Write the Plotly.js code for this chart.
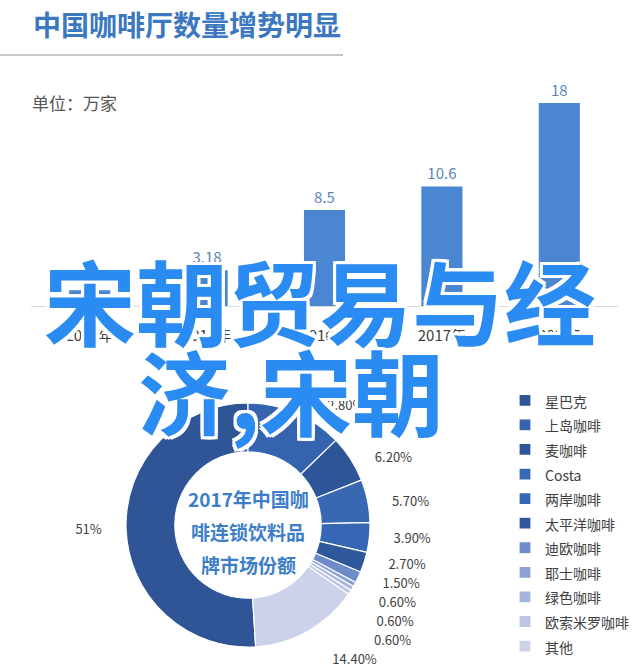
<!DOCTYPE html>
<html>
<head>
<meta charset="utf-8">
<script src="https://cdn.plot.ly/plotly-3.0.1.min.js"></script>
<style>
html,body{margin:0;padding:0;background:#fff;}
#chart{width:640px;height:667px;}
</style>
</head>
<body>
<div id="chart"></div>
<script>
// ---- Bar chart data ----
var years = ['2007年', '2012年', '2016年', '2017年', '2020E'];
var shopCounts = [1.39, 3.18, 8.5, 10.6, 18];

// ---- Donut chart data ----
var brands = ['星巴克', '上岛咖啡', '麦咖啡', 'Costa', '两岸咖啡', '太平洋咖啡', '迪欧咖啡', '耶士咖啡', '绿色咖啡', '欧索米罗咖啡', '其他'];
var shares = [51, 12.8, 6.2, 5.7, 3.9, 2.7, 1.5, 0.6, 0.6, 0.6, 14.4];
var brandColors = ['#2f5597', '#3563ad', '#2e5598', '#3868b2', '#3667b6', '#2e579c', '#6f8cca', '#8ca1d1', '#a5b5dd', '#bcc6e4', '#cbd2e9'];

var pad = '\u2002\u2002\u2002';
var shareText = shares.map(function (v) {
  var s = Number.isInteger(v) ? v + '%' : v.toFixed(2) + '%';
  return '<span style="color:#404040;fill-opacity:1">' + pad + s + pad + '</span>';
});
var legendLabels = brands.map(function (b) {
  return '<span style="font-size:14px">' + b + '</span>';
});

var CJK = '"Noto Sans CJK SC", "Noto Sans", sans-serif';

var barTrace = {
  type: 'bar',
  x: years,
  y: shopCounts,
  xaxis: 'x',
  yaxis: 'y',
  marker: {color: '#4a86d2'},
  text: shopCounts.map(String),
  textposition: 'outside',
  cliponaxis: false,
  textfont: {family: CJK, size: 15, color: '#5a85b8'},
  hoverinfo: 'x+y',
  showlegend: false
};

var pieTrace = {
  type: 'pie',
  labels: legendLabels,
  values: shares,
  text: shareText,
  textinfo: 'text',
  textposition: 'outside',
  sort: false,
  direction: 'clockwise',
  rotation: 176.4,
  hole: 0.6,
  marker: {colors: brandColors, line: {color: '#ffffff', width: 1.2}},
  outsidetextfont: {family: CJK, size: 13, color: 'rgba(255,255,255,0)'},
  domain: {x: [126 / 640, 370 / 640], y: [20 / 667, 264 / 667]},
  automargin: false,
  showlegend: true
};

var outline = '3px 3px 0 #fff, -3px -3px 0 #fff, 3px -3px 0 #fff, -3px 3px 0 #fff, 0 3px 0 #fff, 3px 0 0 #fff, 0 -3px 0 #fff, -3px 0 0 #fff';

var layout = {
  width: 640,
  height: 667,
  margin: {l: 0, r: 0, t: 0, b: 0},
  paper_bgcolor: '#ffffff',
  plot_bgcolor: 'rgba(0,0,0,0)',
  font: {family: CJK, color: '#404040'},
  bargap: 0.65,
  xaxis: {
    domain: [31 / 640, 618 / 640],
    anchor: 'y',
    type: 'category',
    range: [-0.5, 4.5],
    showline: true,
    linecolor: '#d9d9d9',
    linewidth: 1,
    ticks: '',
    ticklabelstandoff: 16,
    tickfont: {family: CJK, size: 15, color: '#404040'},
    showgrid: false,
    zeroline: false,
    fixedrange: true
  },
  yaxis: {
    domain: [1 - 306 / 667, 1 - 80.4 / 667],
    anchor: 'x',
    range: [0, 20],
    visible: false,
    fixedrange: true
  },
  legend: {
    x: 505 / 640,
    xanchor: 'left',
    y: 1 - 383 / 667,
    yanchor: 'top',
    font: {family: CJK, size: 16.6, color: '#404040'},
    bgcolor: 'rgba(0,0,0,0)',
    traceorder: 'normal'
  },
  shapes: [{
    type: 'line', xref: 'paper', yref: 'paper',
    x0: 0, x1: 343 / 640, y0: 1 - 55 / 667, y1: 1 - 55 / 667,
    line: {color: '#b5b5b5', width: 1.5}
  }],
  annotations: [
    {
      text: '<b>中国咖啡厅数量增势明显</b>',
      xref: 'paper', yref: 'paper', x: 31 / 640, y: 1 - 24 / 667,
      xanchor: 'left', yanchor: 'middle', showarrow: false,
      font: {family: CJK, size: 28, color: '#3b78c0'}
    },
    {
      text: '单位：万家',
      xref: 'paper', yref: 'paper', x: 30 / 640, y: 1 - 103 / 667,
      xanchor: 'left', yanchor: 'middle', showarrow: false,
      font: {family: CJK, size: 17, color: '#555555'}
    },
    {
      text: '<b>2017年中国咖</b>',
      xref: 'paper', yref: 'paper', x: 248 / 640, y: 1 - 498 / 667,
      xanchor: 'center', yanchor: 'middle', showarrow: false,
      font: {family: CJK, size: 19, color: '#3d7ec8'}
    },
    {
      text: '<b>啡连锁饮料品</b>',
      xref: 'paper', yref: 'paper', x: 248 / 640, y: 1 - 531 / 667,
      xanchor: 'center', yanchor: 'middle', showarrow: false,
      font: {family: CJK, size: 19, color: '#3d7ec8'}
    },
    {
      text: '<b>牌市场份额</b>',
      xref: 'paper', yref: 'paper', x: 248 / 640, y: 1 - 564 / 667,
      xanchor: 'center', yanchor: 'middle', showarrow: false,
      font: {family: CJK, size: 19, color: '#3d7ec8'}
    },
    {
      text: '<b>宋朝贸易与经</b>',
      xref: 'paper', yref: 'paper', x: 42 / 640, y: 1 - 298 / 667,
      xanchor: 'left', yanchor: 'middle', showarrow: false,
      font: {family: CJK, size: 92, color: '#2a8bf2', shadow: outline}
    },
    {
      text: '<b>济,宋朝</b>',
      xref: 'paper', yref: 'paper', x: 136 / 640, y: 1 - 388 / 667,
      xanchor: 'left', yanchor: 'middle', showarrow: false,
      font: {family: CJK, size: 92, color: '#2a8bf2', shadow: outline}
    }
  ]
};

Plotly.newPlot('chart', [barTrace, pieTrace], layout, {displayModeBar: false});
</script>
</body>
</html>
